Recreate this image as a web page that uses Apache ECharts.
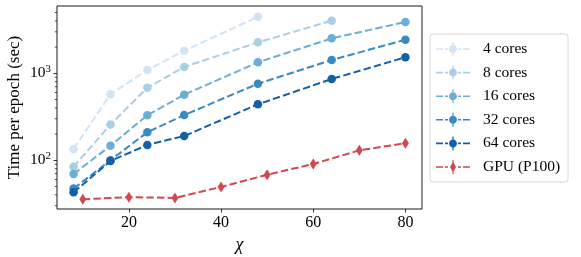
<!DOCTYPE html>
<html><head><meta charset="utf-8">
<script src="https://cdn.jsdelivr.net/npm/echarts@6/dist/echarts.min.js"></script>
<style>html,body{margin:0;padding:0;background:#fff}#c{width:581px;height:257px}</style>
</head><body><div id="c"></div>
<script>
var coresX = [8, 16, 24, 32, 48, 64, 80];
var cores4 = [135, 574, 1092, 1820, 4470];
var cores8 = [84, 257, 682, 1181, 2270, 4030];
var cores16 = [69.6, 147, 329, 567, 1337, 2522, 3890];
var cores32 = [47.2, 100, 210, 331, 759, 1422, 2434];
var cores64 = [42.8, 98, 150, 190, 440, 860, 1528];
var gpuX = [10, 20, 30, 40, 50, 60, 70, 80];
var gpu = [35.6, 37.6, 36.9, 49.3, 68.2, 90.6, 130, 157];
var seriesNames = ['4 cores', '8 cores', '16 cores', '32 cores', '64 cores', 'GPU (P100)'];
var colors = ['#d2e3f3', '#a9cfe5', '#6aaed6', '#3a8ac2', '#135fa8', '#d1494f'];
var xTicks = [20, 40, 60, 80];
var yTicks = [100, 1000];
var yMinor = [30, 40, 50, 60, 70, 80, 90, 200, 300, 400, 500, 600, 700, 800, 900, 2000, 3000, 4000, 5000];
var xMin = 4.4, xMax = 83.6, yMin = 27.5, yMax = 5943;

var FONT = 'Liberation Serif';
function pairs(xs, ys) { return ys.map(function (v, i) { return [xs[i], v]; }); }
var dashes = 'M0,6.2h7v1.6h-7z M9,6.2h3v1.6h-3z M22,6.2h3v1.6h-3z M27,6.2h7v1.6h-7z ';
var bar = 'M16.4,0h1.2v14h-1.2z ';
var circleIcon = 'path://' + dashes + bar + 'M13,7C13,4.8 14.8,3 17,3C19.2,3 21,4.8 21,7C21,9.2 19.2,11 17,11C14.8,11 13,9.2 13,7z';
var diamondIcon = 'path://' + dashes + bar + 'M17,1.5L20,7L17,12.5L14,7z';

var allData = [cores4, cores8, cores16, cores32, cores64];
var series = allData.map(function (d, i) {
  return {
    name: seriesNames[i], type: 'line', data: pairs(coresX, d),
    symbol: 'circle', symbolSize: 8.5, z: 3 + i,
    lineStyle: { color: colors[i], width: 2, type: [7.4, 3.2] },
    itemStyle: { color: colors[i] }
  };
});
series.push({
  name: seriesNames[5], type: 'line', data: pairs(gpuX, gpu),
  symbol: 'diamond', symbolSize: [7, 11], z: 9,
  lineStyle: { color: colors[5], width: 2, type: [7.4, 3.2] },
  itemStyle: { color: colors[5] }
});
series.push({
  type: 'custom', silent: true, z: 1,
  data: yMinor.map(function (v) { return [xMin, v]; }),
  renderItem: function (params, api) {
    var p = api.coord([api.value(0), api.value(1)]);
    return { type: 'line', shape: { x1: p[0] - 2.2, y1: p[1], x2: p[0], y2: p[1] }, style: { stroke: '#000', lineWidth: 0.7 } };
  }
});

var chart = echarts.init(document.getElementById('c'), null, { renderer: 'canvas' });
chart.setOption({
  animation: false,
  grid: { left: 57, right: 159, top: 6, bottom: 48, containLabel: false, outerBoundsMode: 'none', show: true, borderColor: '#000', borderWidth: 0.9, backgroundColor: 'transparent' },
  xAxis: {
    type: 'value', min: xMin, max: xMax,
    axisLine: { show: false },
    splitLine: { show: false },
    axisTick: { show: true, length: 3.5, inside: false, customValues: xTicks, lineStyle: { color: '#000', width: 0.8 } },
    axisLabel: { customValues: xTicks, margin: 6, color: '#000', fontFamily: FONT, fontSize: 16 },
    name: 'χ', nameLocation: 'middle', nameGap: 27, nameMoveOverlap: false,
    nameTextStyle: { color: '#000', fontFamily: FONT, fontSize: 18, fontStyle: 'italic' }
  },
  yAxis: {
    type: 'log', logBase: 10, min: yMin, max: yMax,
    axisLine: { show: false },
    splitLine: { show: false },
    axisTick: { show: true, length: 3.5, customValues: yTicks, lineStyle: { color: '#000', width: 0.8 } },
    axisLabel: {
      customValues: yTicks, margin: 6, color: '#000',
      formatter: function (v) { return '{b|10}{s|' + (Math.round(Math.log10(v)) === 3 ? '3' : '2') + '}'; },
      rich: {
        b: { fontFamily: FONT, fontSize: 15.5, color: '#000' },
        s: { fontFamily: FONT, fontSize: 11, color: '#000', padding: [0, 0, 8, 0] }
      }
    },
    name: 'Time per epoch (sec)', nameLocation: 'middle', nameGap: 34, nameMoveOverlap: false,
    nameTextStyle: { color: '#000', fontFamily: FONT, fontSize: 17 }
  },
  legend: {
    data: seriesNames.map(function (n, i) { return { name: n, icon: i === 5 ? diamondIcon : circleIcon }; }),
    orient: 'vertical', left: 430, top: 34,
    itemWidth: 34, itemHeight: 14, itemGap: 7.6,
    padding: [7, 8, 7, 6],
    backgroundColor: '#fff', borderColor: '#d8d8d8', borderWidth: 1, borderRadius: 3,
    textStyle: { color: '#000', fontFamily: FONT, fontSize: 15.5, lineHeight: 16, padding: [0, 0, 0, 8] }
  },
  series: series
});
</script></body></html>
